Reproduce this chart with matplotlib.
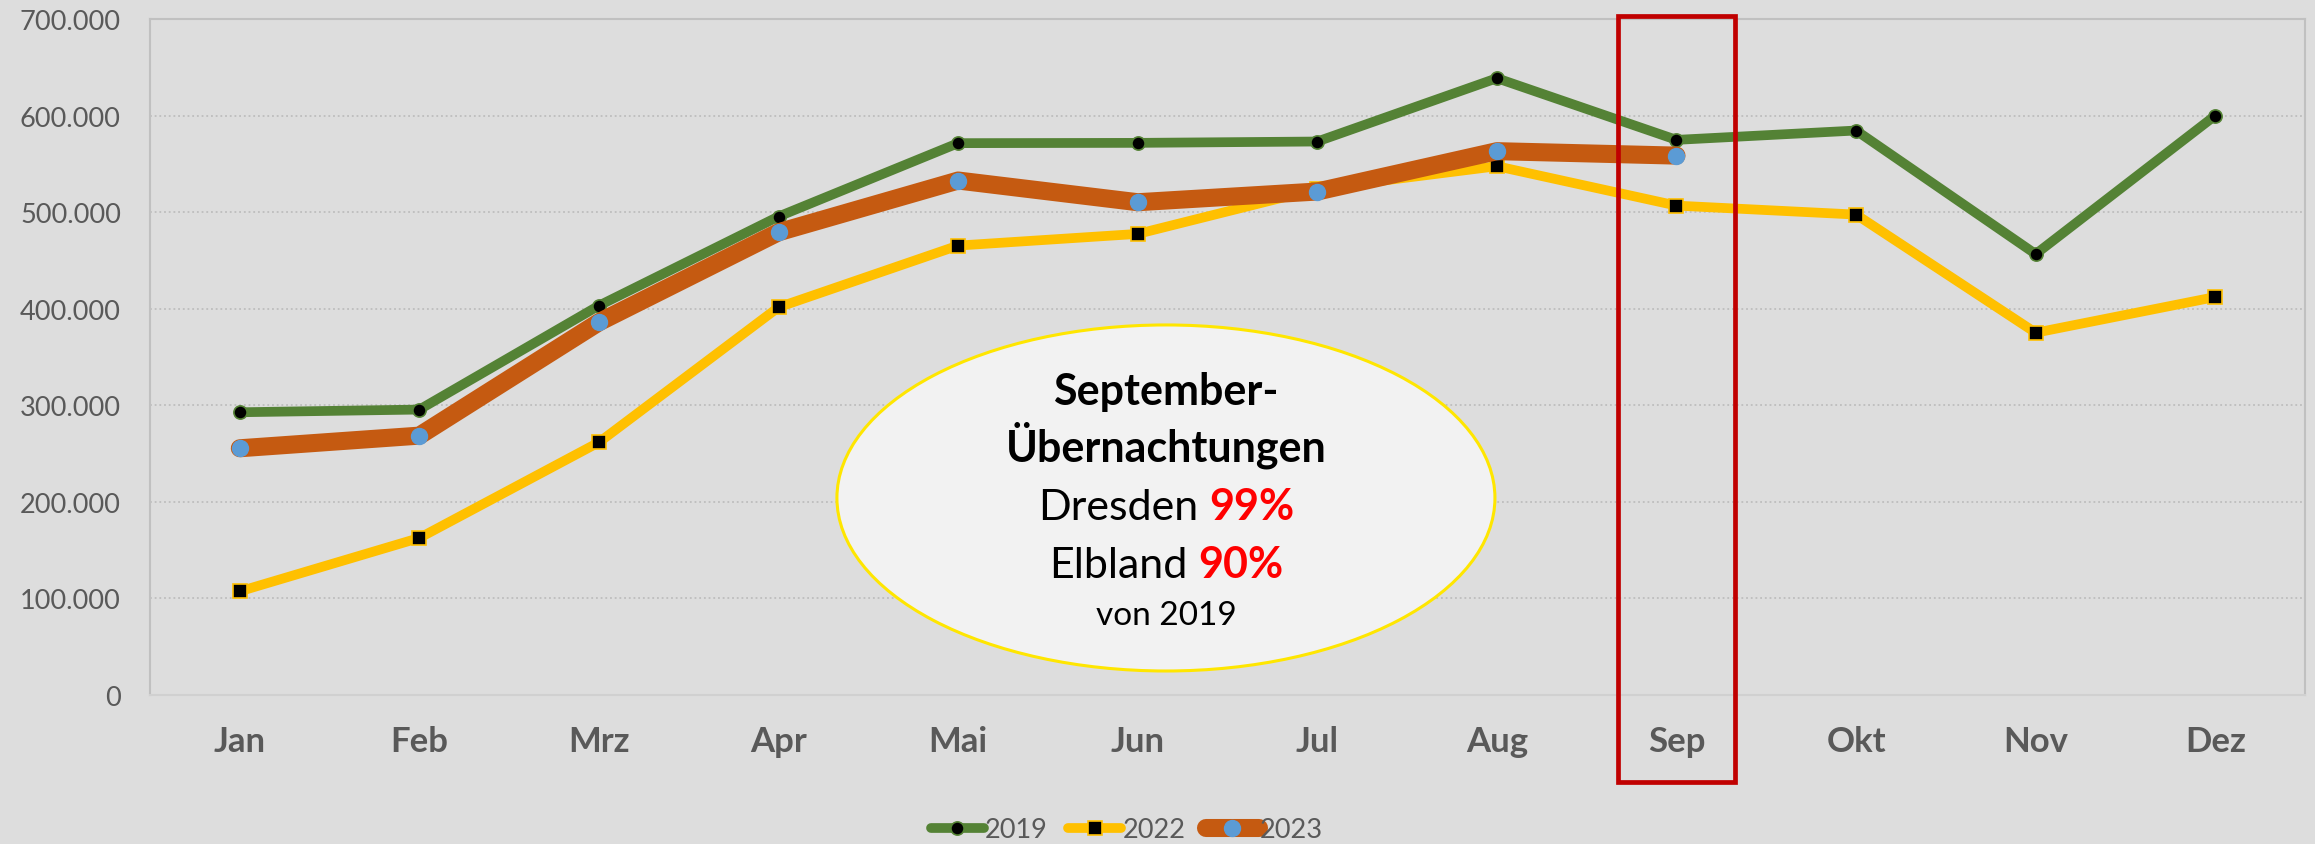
import numpy as np
import matplotlib
matplotlib.use("Agg")
import matplotlib.pyplot as plt
import matplotlib.transforms as mtransforms
from matplotlib.patches import Ellipse, Rectangle
from matplotlib.ticker import FuncFormatter

months = ["Jan", "Feb", "Mrz", "Apr", "Mai", "Jun", "Jul", "Aug", "Sep", "Okt", "Nov", "Dez"]
v2019 = [292600, 295400, 403100, 495400, 571400, 571700, 573100, 638700, 574800, 584500, 456500, 600000]
v2022 = [107100, 162400, 261500, 401400, 465300, 477400, 524000, 547500, 506700, 497400, 375000, 412000]
v2023 = [255300, 268400, 385900, 479100, 532700, 510200, 521300, 563100, 558500]

bg = "#DDDDDD"
grey_txt = "#595959"

plt.rcParams["font.family"] = ["Lato", "DejaVu Sans"]

fig = plt.figure(figsize=(23.15, 8.45), dpi=100, facecolor=bg)
ax = fig.add_axes([0.0648, 0.1767, 0.9309, 0.7996])
ax.set_facecolor(bg)

x = np.arange(len(months)) + 0.5
ax.plot(x, v2019, color="#548235", lw=7, marker="o", ms=9.5, mfc="black",
        mec="#548235", mew=1.2, solid_capstyle="round", solid_joinstyle="round",
        label="2019", zorder=3)
ax.plot(x, v2022, color="#FFC000", lw=7, marker="s", ms=9.5, mfc="black",
        mec="#FFC000", mew=1.2, solid_capstyle="round", solid_joinstyle="round",
        label="2022", zorder=3.1)
ax.plot(x[:len(v2023)], v2023, color="#C55A11", lw=13, marker="o", ms=11.5,
        mfc="#5B9BD5", mec="#5B9BD5", solid_capstyle="round",
        solid_joinstyle="round", label="2023", zorder=3.2)

ax.set_xlim(0, 12)
ax.set_ylim(0, 700000)
ax.set_yticks(np.arange(0, 700001, 100000))
ax.yaxis.set_major_formatter(FuncFormatter(lambda v, p: f"{v:,.0f}".replace(",", ".")))
ax.set_xticks(x)
ax.set_xticklabels(months, fontsize=25, fontweight="bold", color=grey_txt)
ax.tick_params(axis="y", labelsize=19.5, labelcolor=grey_txt, length=0, pad=21)
ax.tick_params(axis="x", length=0, pad=22)
ax.yaxis.grid(True, linestyle=(0, (1, 1.6)), color="#BDBDBD", lw=1.3)
ax.set_axisbelow(True)
for s in ["top", "left", "right"]:
    ax.spines[s].set_color("#C0C0C0")
    ax.spines[s].set_linewidth(1.5)
ax.spines["bottom"].set_color("#D0D0D0")
ax.spines["bottom"].set_linewidth(1.5)

# red frame around September
blend = mtransforms.blended_transform_factory(ax.transData, ax.transAxes)
ax.add_patch(Rectangle((8.5 - 0.323, -0.129), 0.646, 1.134, transform=blend,
                       clip_on=False, fill=False, ec="#C00000", lw=3.4, zorder=6))

# ellipse with note
cx, cy = 5.657, 203800
ax.add_patch(Ellipse((cx, cy), 3.664, 358500, fc="#F2F2F2", ec="#FFE600",
                     lw=2.2, zorder=5, clip_on=False))
ax.text(cx, 301200, "September-", ha="center", va="baseline", fontsize=31,
        fontweight="bold", color="black", zorder=7)
ax.text(cx, 242200, "Übernachtungen", ha="center", va="baseline", fontsize=31,
        fontweight="bold", color="black", zorder=7)
ax.text(cx, 73300, "von 2019", ha="center", va="baseline", fontsize=24,
        color="black", zorder=7)

fig.canvas.draw()
rend = fig.canvas.get_renderer()
for word, pct, yb in [("Dresden", "99%", 182100), ("Elbland", "90%", 122000)]:
    t1 = ax.text(cx, yb, word, ha="left", va="baseline", fontsize=31, color="black", zorder=7)
    t2 = ax.text(cx, yb, pct, ha="left", va="baseline", fontsize=31,
                 fontweight="bold", color="red", zorder=7)
    w1 = t1.get_window_extent(rend).width
    w2 = t2.get_window_extent(rend).width
    gap = 0.25 * 31 * fig.dpi / 72
    total = w1 + gap + w2
    off1 = -total / 2 * 72 / fig.dpi
    off2 = (-total / 2 + w1 + gap) * 72 / fig.dpi
    t1.set_transform(mtransforms.offset_copy(ax.transData, fig=fig, x=off1, units="points"))
    t2.set_transform(mtransforms.offset_copy(ax.transData, fig=fig, x=off2, units="points"))

ax.legend(loc="center", bbox_to_anchor=(0.4868, 0.0166), bbox_transform=fig.transFigure,
          ncol=3, frameon=False, fontsize=19.5, labelcolor=grey_txt, handlelength=1.95,
          handletextpad=0.05, columnspacing=0.75, borderpad=0, borderaxespad=0)

fig.savefig("out.png", dpi=100, facecolor=bg)
